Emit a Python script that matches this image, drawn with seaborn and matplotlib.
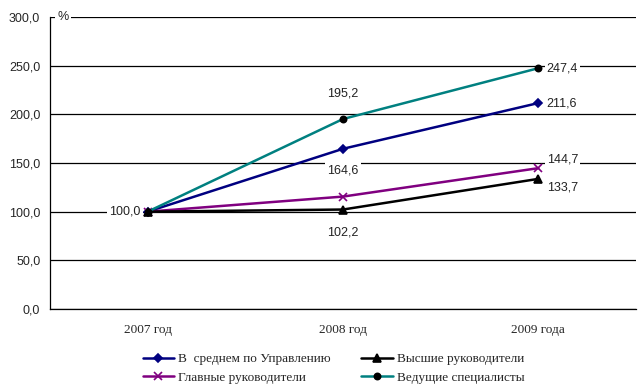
import pandas as pd
import seaborn as sns
import matplotlib.pyplot as plt

# data
years = ["2007 год", "2008 год", "2009 года"]
avg_vals = [100.0, 164.6, 211.6]
top_vals = [100.0, 102.2, 133.7]
chief_vals = [100.0, 115.5, 144.7]
lead_vals = [100.0, 195.2, 247.4]

series = {
    "В  среднем по Управлению": avg_vals,
    "Главные руководители": chief_vals,
    "Высшие руководители": top_vals,
    "Ведущие специалисты": lead_vals,
}

styles = {
    "В  среднем по Управлению": dict(color="#000080", marker="D", mfc="#000080", mec="#000080", ms=4),
    "Главные руководители": dict(color="#800080", marker="x", mfc="#800080", mec="#800080", ms=6),
    "Высшие руководители": dict(color="black", marker="^", mfc="black", mec="black", ms=6),
    "Ведущие специалисты": dict(color="#008080", marker="o", mfc="black", mec="black", ms=4.5),
}

# label text, offset (points), alignment
labels = [
    ("Высшие руководители", 0, "100,0", (-5, 0), "right", "center"),
    ("Ведущие специалисты", 1, "195,2", (0, 14), "center", "bottom"),
    ("В  среднем по Управлению", 1, "164,6", (0, -11), "center", "top"),
    ("Высшие руководители", 1, "102,2", (0, -12), "center", "top"),
    ("Ведущие специалисты", 2, "247,4", (6, 0), "left", "center"),
    ("В  среднем по Управлению", 2, "211,6", (6, 0), "left", "center"),
    ("Главные руководители", 2, "144,7", (6, 2), "left", "bottom"),
    ("Высшие руководители", 2, "133,7", (6, -2), "left", "top"),
]

rows = []
for name, vals in series.items():
    for i, v in enumerate(vals):
        rows.append({"Series": name, "x": i, "value": v})
df = pd.DataFrame(rows)

sns.set_style("white")
plt.rcParams["font.family"] = ["Liberation Sans", "DejaVu Sans"]

fig = plt.figure(figsize=(6.4, 3.91), dpi=100)
ax = fig.add_axes([50 / 640, 1 - 309 / 391, 586 / 640, 292 / 391])

for name in series:
    st = styles[name]
    sub = df[df["Series"] == name]
    sns.lineplot(data=sub, x="x", y="value", ax=ax, color=st["color"], lw=1.8,
                 marker=st["marker"], markersize=st["ms"],
                 markerfacecolor=st["mfc"], markeredgecolor=st["mec"],
                 markeredgewidth=1.2, label=name, zorder=3)

for name, i, txt, off, ha, va in labels:
    ax.annotate(txt, (i, series[name][i]), xytext=off, textcoords="offset points",
                ha=ha, va=va, fontsize=9, color="#222222", zorder=5,
                bbox=dict(boxstyle="square,pad=0.15", fc="white", ec="none"))

ax.set_xlim(-0.5, 2.5)
ax.set_ylim(0, 300)
ax.set_yticks(range(0, 301, 50))
ax.set_yticklabels([f"{v},0" for v in range(0, 301, 50)], fontsize=9)
ax.yaxis.grid(True, color="black", lw=0.9)
ax.set_axisbelow(True)

ax.set_xticks([-0.5, 0.5, 1.5, 2.5])
ax.set_xticklabels([])
ax.set_xticks([0, 1, 2], minor=True)
ax.set_xticklabels(years, minor=True, fontsize=9.5, family="Liberation Serif")
ax.tick_params(axis="x", which="major", direction="out", length=4, width=0.9, color="black")
ax.tick_params(axis="x", which="minor", length=0, pad=11)
ax.tick_params(axis="y", direction="out", length=4, width=0.9, color="black", pad=3)
ax.set_xlabel("")
ax.set_ylabel("")

for side in ["top", "right"]:
    ax.spines[side].set_visible(False)
for side in ["left", "bottom"]:
    ax.spines[side].set_color("black")
    ax.spines[side].set_linewidth(0.9)

ax.text(0.013, 1.0, "%", transform=ax.transAxes, ha="left", va="center", fontsize=9,
        bbox=dict(boxstyle="square,pad=0.2", fc="white", ec="none"))

leg = ax.legend(loc="upper left", bbox_to_anchor=(0.14, -0.115), ncol=2, frameon=False,
                prop={"family": "Liberation Serif", "size": 9.5}, handlelength=2.4,
                columnspacing=2.3, labelspacing=0.45, handletextpad=0.3, borderpad=0.3)

fig.savefig("out.png", dpi=100)
